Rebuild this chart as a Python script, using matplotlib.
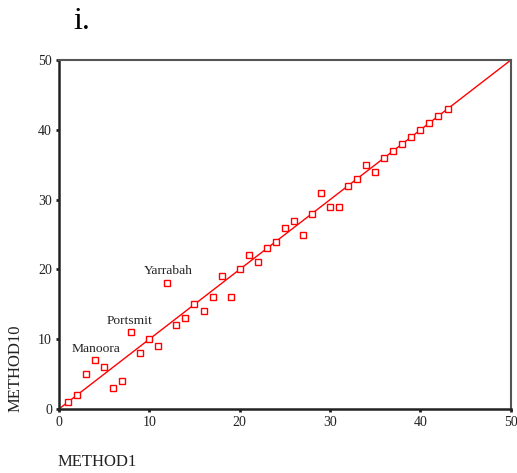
import matplotlib
matplotlib.use("Agg")
import matplotlib.pyplot as plt

method1 = [1, 2, 3, 4, 5, 6, 7, 8, 9, 10, 11, 12, 13, 14, 15, 16, 17, 18, 19, 20,
           21, 22, 23, 24, 25, 26, 27, 28, 29, 30, 31, 32, 33, 34, 35, 36, 37, 38,
           39, 40, 41, 42, 43]
method10 = [1, 2, 5, 7, 6, 3, 4, 11, 8, 10, 9, 18, 12, 13, 15, 14, 16, 19, 16, 20,
            22, 21, 23, 24, 26, 27, 25, 28, 31, 29, 29, 32, 33, 35, 34, 36, 37, 38,
            39, 40, 41, 42, 43]
line_x = [0, 50]
line_y = [0, 50]
labels = ["Manoora", "Portsmit", "Yarrabah"]
label_pos = [(1.4, 8.6), (5.3, 12.6), (9.4, 19.8)]
ticks = [0, 10, 20, 30, 40, 50]

plt.rcParams['font.family'] = ['Liberation Serif', 'DejaVu Serif']

fig = plt.figure(figsize=(5.17, 4.73), dpi=100)
ax = fig.add_axes([0.114, 0.1353, 0.874, 0.7377])

ax.plot(line_x, line_y, color='red', lw=1.0, zorder=2)
ax.plot(method1, method10, linestyle='none', marker='s', markersize=5,
        markerfacecolor='white', markeredgecolor='red', markeredgewidth=1.0, zorder=3)

for t, (x, y) in zip(labels, label_pos):
    ax.text(x, y, t, fontsize=9.7, ha='left', va='center', color='#222222')

ax.set_xlim(0, 50)
ax.set_ylim(0, 50)
ax.set_xticks(ticks)
ax.set_yticks(ticks)
ax.tick_params(axis='both', length=2, width=2, labelsize=10, pad=3, colors='#222222')

for s in ['left', 'bottom']:
    ax.spines[s].set_linewidth(1.8)
    ax.spines[s].set_color('#222222')
for s in ['top', 'right']:
    ax.spines[s].set_linewidth(1.5)
    ax.spines[s].set_color('#555555')

fig.text(58 / 517, 1 - 462 / 473, "METHOD1", fontsize=12, ha='left', va='center', color='#222222')
fig.text(16 / 517, 1 - 368 / 473, "METHOD10", fontsize=12, ha='center', va='center',
         rotation=90, color='#222222')
fig.text(73 / 517, 1 - 21 / 473, "i.", fontsize=23, ha='left', va='center', color='black')

fig.savefig("out.png", dpi=100)
